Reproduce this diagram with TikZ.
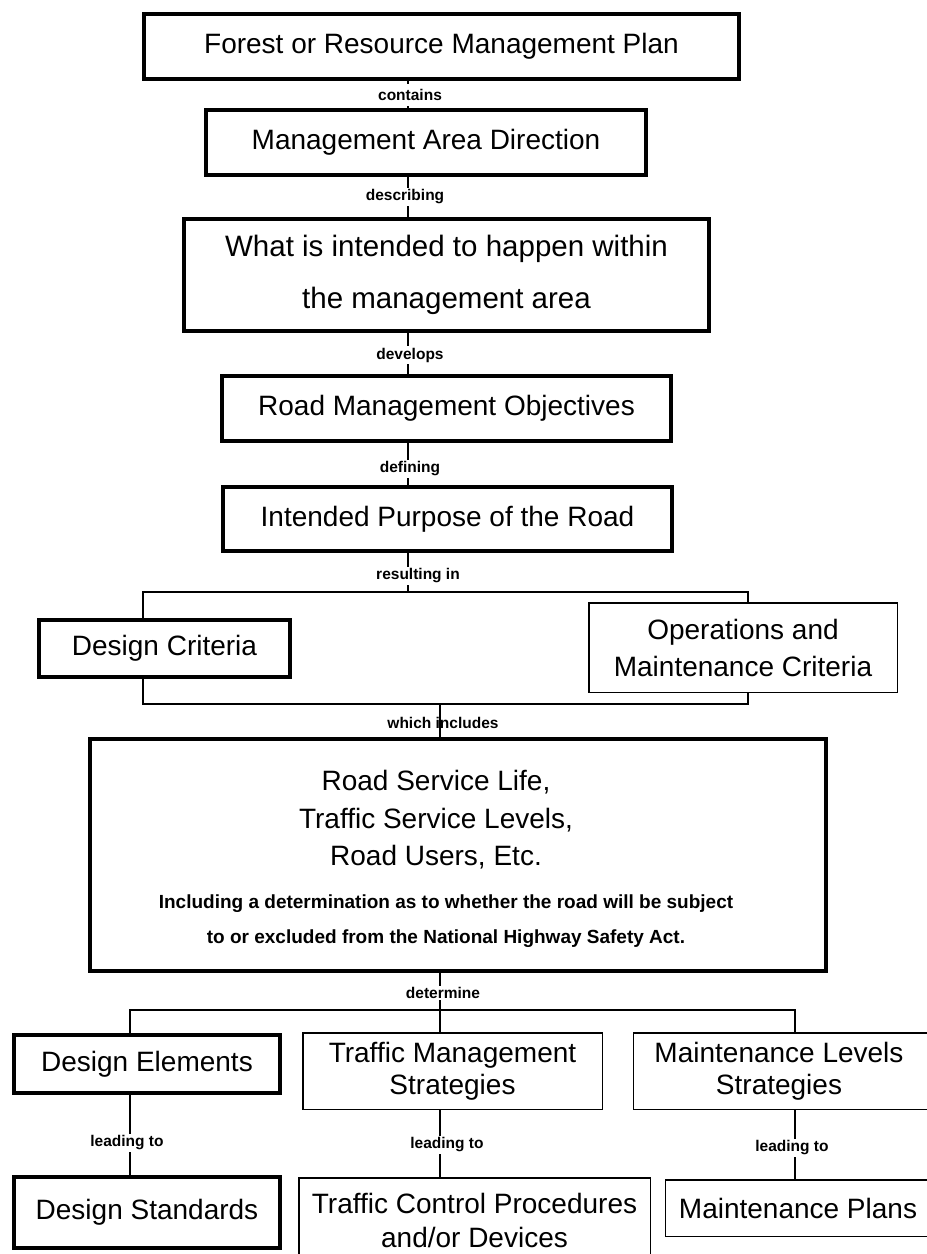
\documentclass[tikz,border=0pt]{standalone}
\usepackage{fontspec}
\setmainfont{Liberation Sans}
\newcommand\boxtxt{\fontsize{28}{37}\selectfont}
\newcommand\linktxt{\fontsize{15.5}{18}\selectfont\bfseries}
\newcommand\notetxt{\fontsize{19}{35}\selectfont\bfseries}

\begin{document}
\begin{tikzpicture}[x = 1pt, y = -1pt,
    thinbox/.style={draw, line width=1.5pt, inner sep=0pt, align=center, font=\boxtxt},
    heavybox/.style={thinbox, line width=4pt},
    link/.style={line width=1.3pt},
    linktag/.style={font=\linktxt, fill=white, inner sep=1.5pt}]
    \useasboundingbox (0,0) rectangle (927,1254);
    % planning chain
    \node (plan) [heavybox, minimum width=595pt, minimum height=65pt] at (441.5,46.5) {Forest or Resource Management Plan};
    \node (area) [heavybox, minimum width=440pt, minimum height=65pt] at (426,142.5) {Management Area Direction};
    \node (intent) [heavybox, minimum width=525pt, minimum height=112pt, font=\fontsize{29.5}{52}\selectfont] at (446.5,275) {What is intended to happen within\\the management area};
    \node (objectives) [heavybox, minimum width=449pt, minimum height=65pt] at (446.5,408.5) {Road Management Objectives};
    \node (purpose) [heavybox, minimum width=449pt, minimum height=64pt] at (447.5,519) {Intended Purpose of the Road};
    % criteria
    \node (designcrit) [heavybox, minimum width=251pt, minimum height=57pt] at (164.5,648.5) {Design Criteria};
    \node (opscrit) [thinbox, minimum width=308.5pt, minimum height=89.5pt] at (743,647.5) {Operations and\\Maintenance Criteria};
    \node (services) [heavybox, minimum width=736pt, minimum height=232pt] at (458,855) {};
    \node (servlist) [align=center, font=\fontsize{28}{37.5}\selectfont] at (436,820) {Road Service Life,\\Traffic Service Levels,\\Road Users, Etc.};
    \node (servnote) [align=center, font=\notetxt] at (446,921) {Including a determination as to whether the road will be subject\\to or excluded from the National Highway Safety Act.};
    % strategies and results
    \node (elements) [heavybox, minimum width=266pt, minimum height=58pt] at (147,1064) {Design Elements};
    \node (trafficmgmt) [thinbox, minimum width=299.5pt, minimum height=76.5pt, font=\fontsize{28}{32}\selectfont] at (452.5,1071) {Traffic Management\\Strategies};
    \node (maintlevels) [thinbox, minimum width=315pt, minimum height=76.5pt, font=\fontsize{28}{32}\selectfont] at (791,1071) {Maintenance Levels\rule{24pt}{0pt}\\Strategies\rule{24pt}{0pt}};
    \node (standards) [heavybox, minimum width=266pt, minimum height=71pt] at (147,1212.5) {Design Standards};
    \node (controls) [thinbox, minimum width=351.5pt, minimum height=84.5pt, font=\fontsize{28}{34}\selectfont] at (474.5,1220) {Traffic Control Procedures\\and/or Devices};
    \node (plans) [thinbox, minimum width=283pt, minimum height=56.5pt] at (807,1208) {Maintenance Plans\rule{18pt}{0pt}};
    % connectors
    \coordinate (spine) at (408,0);
    \coordinate (bl) at (143,592);
    \coordinate (br) at (748,592);
    \coordinate (bbl) at (143,704);
    \coordinate (bbr) at (748,704);
    \coordinate (join) at (440,704);
    \coordinate (fork) at (440,1010);
    \coordinate (tleft) at (130,1010);
    \coordinate (tright) at (795,1010);
    \draw [link] (plan.south -| spine) -- (area.north -| spine);
    \draw [link] (area.south -| spine) -- (intent.north -| spine);
    \draw [link] (intent.south -| spine) -- (objectives.north -| spine);
    \draw [link] (objectives.south -| spine) -- (purpose.north -| spine);
    \draw [link] (purpose.south -| spine) -- (spine |- bl);
    \draw [link] (designcrit.north -| bl) -- (bl) -- (br) -- (opscrit.north -| br);
    \draw [link] (designcrit.south -| bbl) -- (bbl) -- (bbr) -- (opscrit.south -| bbr);
    \draw [link] (join) -- (services.north -| join);
    \draw [link] (services.south -| fork) -- (trafficmgmt.north -| fork);
    \draw [link] (elements.north -| tleft) -- (tleft) -- (tright) -- (maintlevels.north -| tright);
    \draw [link] (elements.south -| tleft) -- (standards.north -| tleft);
    \draw [link] (trafficmgmt.south -| fork) -- (controls.north -| fork);
    \draw [link] (maintlevels.south -| tright) -- (plans.north -| tright);
    % connector words
    \node (tagcontains) [linktag, inner ysep=5pt] at (410,95) {contains};
    \node (tagdescribing) [linktag] at (405,197) {describing};
    \node (tagdevelops) [linktag] at (410,355) {develops};
    \node (tagdefining) [linktag] at (410,469) {defining};
    \node (tagresulting) [linktag] at (418,576) {resulting in};
    \node (tagincludes) [linktag, fill=none] at (443,723) {which includes};
    \node (tagdetermine) [linktag] at (443,993) {determine};
    \node (tagleadA) [linktag] at (127,1143) {leading to};
    \node (tagleadB) [linktag] at (447,1145) {leading to};
    \node (tagleadC) [linktag] at (792,1148) {leading to};
\end{tikzpicture}
\end{document}
